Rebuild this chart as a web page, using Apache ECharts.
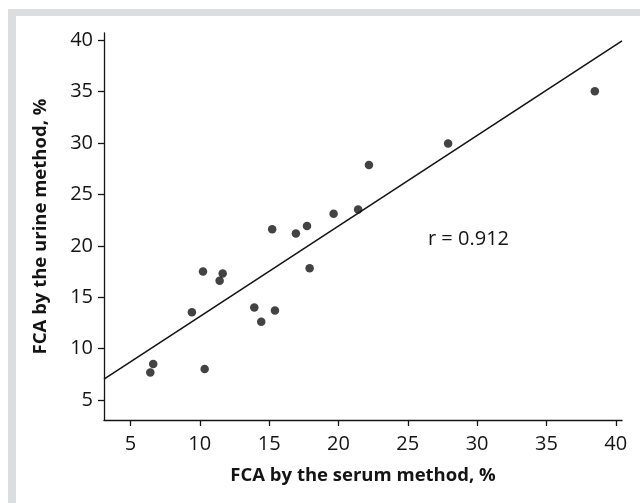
<!DOCTYPE html>
<html>
<head>
<meta charset="utf-8">
<script src="https://cdn.jsdelivr.net/npm/echarts@6/dist/echarts.min.js"></script>
<style>html,body{margin:0;padding:0;background:#fff;}#c{width:640px;height:503px;}</style>
</head>
<body>
<div id="c"></div>
<script>
// Data
const serumX = [6.43, 6.64, 9.43, 10.23, 10.35, 11.43, 11.65, 13.93, 14.43, 15.42, 15.22, 16.93, 17.73, 17.92, 19.65, 21.42, 22.2, 27.91, 38.49];
const urineY = [7.69, 8.5, 13.53, 17.51, 8.01, 16.6, 17.32, 14.01, 12.61, 13.72, 21.62, 21.21, 21.92, 17.83, 23.11, 23.54, 27.85, 29.96, 35.04];
const fitX = [3.09, 40.45];
const fitY = [7.03, 39.93];
const xTicks = [5, 10, 15, 20, 25, 30, 35, 40];
const yTicks = [5, 10, 15, 20, 25, 30, 35, 40];
const rLabel = 'r = 0.912';

const points = serumX.map((x, i) => [x, urineY[i]]);
const fit = fitX.map((x, i) => [x, fitY[i]]);
const font = "'Open Sans', 'Noto Sans', sans-serif";
const ink = '#141414';

const chart = echarts.init(document.getElementById('c'), null, {renderer: 'canvas'});
chart.setOption({
  backgroundColor: '#ffffff',
  animation: false,
  graphic: [
    {type: 'rect', shape: {x: 8, y: 9, width: 632, height: 7}, style: {fill: '#dcdddf'}, silent: true},
    {type: 'rect', shape: {x: 8, y: 9, width: 8, height: 494}, style: {fill: '#dcdddf'}, silent: true},
    {type: 'text', left: 428, top: 229, style: {text: rLabel, font: "20px 'Open Sans', 'Noto Sans', sans-serif", fill: ink}}
  ],
  grid: {left: 104, right: 18, top: 33, bottom: 83},
  xAxis: {
    type: 'value', min: 3.09, max: 40.45,
    name: 'FCA by the serum method, %', nameLocation: 'middle', nameGap: 46,
    nameTextStyle: {fontFamily: font, fontSize: 18.5, fontWeight: 'bold', color: ink},
    axisLine: {show: true, onZero: false, lineStyle: {color: ink, width: 1.3}},
    axisTick: {show: true, length: 6, customValues: xTicks, lineStyle: {color: ink, width: 1.3}},
    axisLabel: {customValues: xTicks, margin: 14, fontFamily: font, fontSize: 20, color: ink},
    splitLine: {show: false}
  },
  yAxis: {
    type: 'value', min: 3.06, max: 40.7,
    name: 'FCA by the urine method, %', nameLocation: 'middle', nameGap: 54, nameRotate: 90,
    nameTextStyle: {fontFamily: font, fontSize: 18.5, fontWeight: 'bold', color: ink},
    axisLine: {show: true, onZero: false, lineStyle: {color: ink, width: 1.3}},
    axisTick: {show: true, length: 6, customValues: yTicks, lineStyle: {color: ink, width: 1.3}},
    axisLabel: {customValues: yTicks, margin: 11, fontFamily: font, fontSize: 20, color: ink},
    splitLine: {show: false}
  },
  series: [
    {type: 'line', data: fit, symbol: 'none', clip: false, lineStyle: {color: ink, width: 1.6}, z: 2},
    {type: 'scatter', data: points, symbol: 'circle', symbolSize: 8.5, itemStyle: {color: ink}, z: 3}
  ]
});
</script>
</body>
</html>
